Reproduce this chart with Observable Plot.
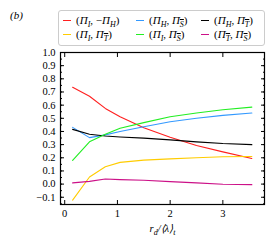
<!DOCTYPE html>
<html>
<head>
<meta charset="utf-8">
<script src="https://cdn.jsdelivr.net/npm/d3@7"></script>
<script src="https://cdn.jsdelivr.net/npm/@observablehq/plot@0.6"></script>
<style>
  html, body { margin: 0; padding: 0; background: #fff; }
  #wrap { position: relative; width: 277px; height: 247px; font-family: "Liberation Serif", serif; }
  #panel { position: absolute; left: 10px; top: 9px; font-size: 11px; font-style: italic; font-family: "Liberation Serif", serif; }
  #legend { position: absolute; left: 58px; top: 10px; width: 207px; height: 36px; border: 1px solid #ccc; border-radius: 3px; box-sizing: border-box; font-family: "Liberation Serif", serif; font-size: 11px; }
  .item { position: absolute; display: flex; align-items: center; white-space: nowrap; line-height: 13px; height: 13px; }
  .item sub { font-size: 8px; line-height: 0; }
  .sw { width: 8px; height: 0; border-top: 1.2px solid; margin-right: 5px; }
  .xl { position: absolute; left: 0; width: 277px; top: 222px; text-align: center; padding-left: 48px; box-sizing: border-box; font-family: "Liberation Serif", serif; font-style: italic; font-size: 10.5px; }
  .xl sub { font-size: 8px; }
</style>
</head>
<body>
<div id="wrap"></div>
<script>
const xs = [0.15, 0.47, 0.77, 1.05, 1.5, 2.0, 2.5, 3.0, 3.55];
const seriesNames = ["(Π_I, −Π_H)", "(Π_H, Π_S)", "(Π_H, Π_T)", "(Π_I, Π_T)", "(Π_I, Π_S)", "(Π_T, Π_S)"];
const seriesColors = ["#ff1f1f", "#3399ff", "#000000", "#ffcc00", "#22ee22", "#cc1188"];
const red = [0.736, 0.668, 0.575, 0.512, 0.429, 0.356, 0.293, 0.245, 0.195];
const blue = [0.431, 0.353, 0.374, 0.400, 0.436, 0.474, 0.500, 0.522, 0.540];
const black = [0.416, 0.379, 0.366, 0.358, 0.349, 0.336, 0.321, 0.308, 0.300];
const yellow = [-0.122, 0.054, 0.132, 0.165, 0.182, 0.192, 0.200, 0.208, 0.210];
const green = [0.180, 0.321, 0.379, 0.424, 0.467, 0.512, 0.540, 0.565, 0.585];
const magenta = [0.009, 0.021, 0.039, 0.034, 0.029, 0.019, 0.009, -0.001, -0.004];
const yTicks = [-0.1, 0.0, 0.1, 0.2, 0.3, 0.4, 0.5, 0.6, 0.7, 0.8, 0.9, 1.0];
const xTicks = [0, 1, 2, 3];

const allSeries = [red, blue, black, yellow, green, magenta];
const rows = [];
allSeries.forEach((vals, i) => vals.forEach((v, j) => rows.push({x: xs[j], y: v, s: i})));
const yMinor = d3.range(-0.15, 1.0001, 0.05).map(v => +v.toFixed(2));

const fmt = d3.format(".1f");
const chart = Plot.plot({
  width: 277, height: 247,
  marginLeft: 60, marginRight: 13, marginTop: 52, marginBottom: 43,
  style: {fontFamily: "Liberation Serif, serif", fontSize: "10.5px", background: "white"},
  x: {domain: [-0.08, 3.79]},
  y: {domain: [-0.155, 1.0]},
  marks: [
    Plot.line(rows, {x: "x", y: "y", z: "s", stroke: d => seriesColors[d.s], strokeWidth: 1.1}),
    Plot.axisY(yTicks, {anchor: "left", tickSize: -4, tickPadding: 9, tickFormat: fmt, label: null, fontSize: 10.5}),
    Plot.axisY(yMinor, {anchor: "left", tickSize: -2, tickFormat: () => "", label: null}),
    Plot.axisY(yTicks, {anchor: "right", tickSize: -4, tickFormat: () => "", label: null}),
    Plot.axisY(yMinor, {anchor: "right", tickSize: -2, tickFormat: () => "", label: null}),
    Plot.axisX(xTicks, {anchor: "bottom", tickSize: -4, tickPadding: 9, tickFormat: d3.format("d"), label: null, fontSize: 10.5}),
    Plot.axisX(xTicks, {anchor: "top", tickSize: -4, tickFormat: () => "", label: null}),
    Plot.frame({stroke: "black", strokeWidth: 1.2})
  ]
});
const wrap = document.getElementById("wrap");
wrap.appendChild(chart);

const panel = document.createElement("div");
panel.id = "panel"; panel.textContent = "(b)";
wrap.appendChild(panel);

const legendHTML = [
  '(<i>Π<sub>I</sub></i>, −<i>Π<sub>H</sub></i>)',
  '(<i>Π<sub>H</sub></i>, <i>Π<sub><span style="text-decoration:overline">S</span></sub></i>)',
  '(<i>Π<sub>H</sub></i>, <i>Π<sub><span style="text-decoration:overline">T</span></sub></i>)',
  '(<i>Π<sub>I</sub></i>, <i>Π<sub><span style="text-decoration:overline">T</span></sub></i>)',
  '(<i>Π<sub>I</sub></i>, <i>Π<sub><span style="text-decoration:overline">S</span></sub></i>)',
  '(<i>Π<sub><span style="text-decoration:overline">T</span></sub></i>, <i>Π<sub><span style="text-decoration:overline">S</span></sub></i>)'
];
const legend = document.createElement("div");
legend.id = "legend";
const colX = [4, 77, 142];
seriesNames.forEach((n, i) => {
  const it = document.createElement("div");
  it.className = "item";
  it.style.left = colX[i % 3] + "px";
  it.style.top = (i < 3 ? 3 : 17) + "px";
  it.innerHTML = '<span class="sw" style="border-color:' + seriesColors[i] + '"></span><span>' + legendHTML[i] + '</span>';
  legend.appendChild(it);
});
wrap.appendChild(legend);

const xl = document.createElement("div");
xl.className = "xl";
xl.innerHTML = 'r<sub>d</sub>/⟨λ⟩<sub>t</sub>';
wrap.appendChild(xl);
</script>
</body>
</html>
